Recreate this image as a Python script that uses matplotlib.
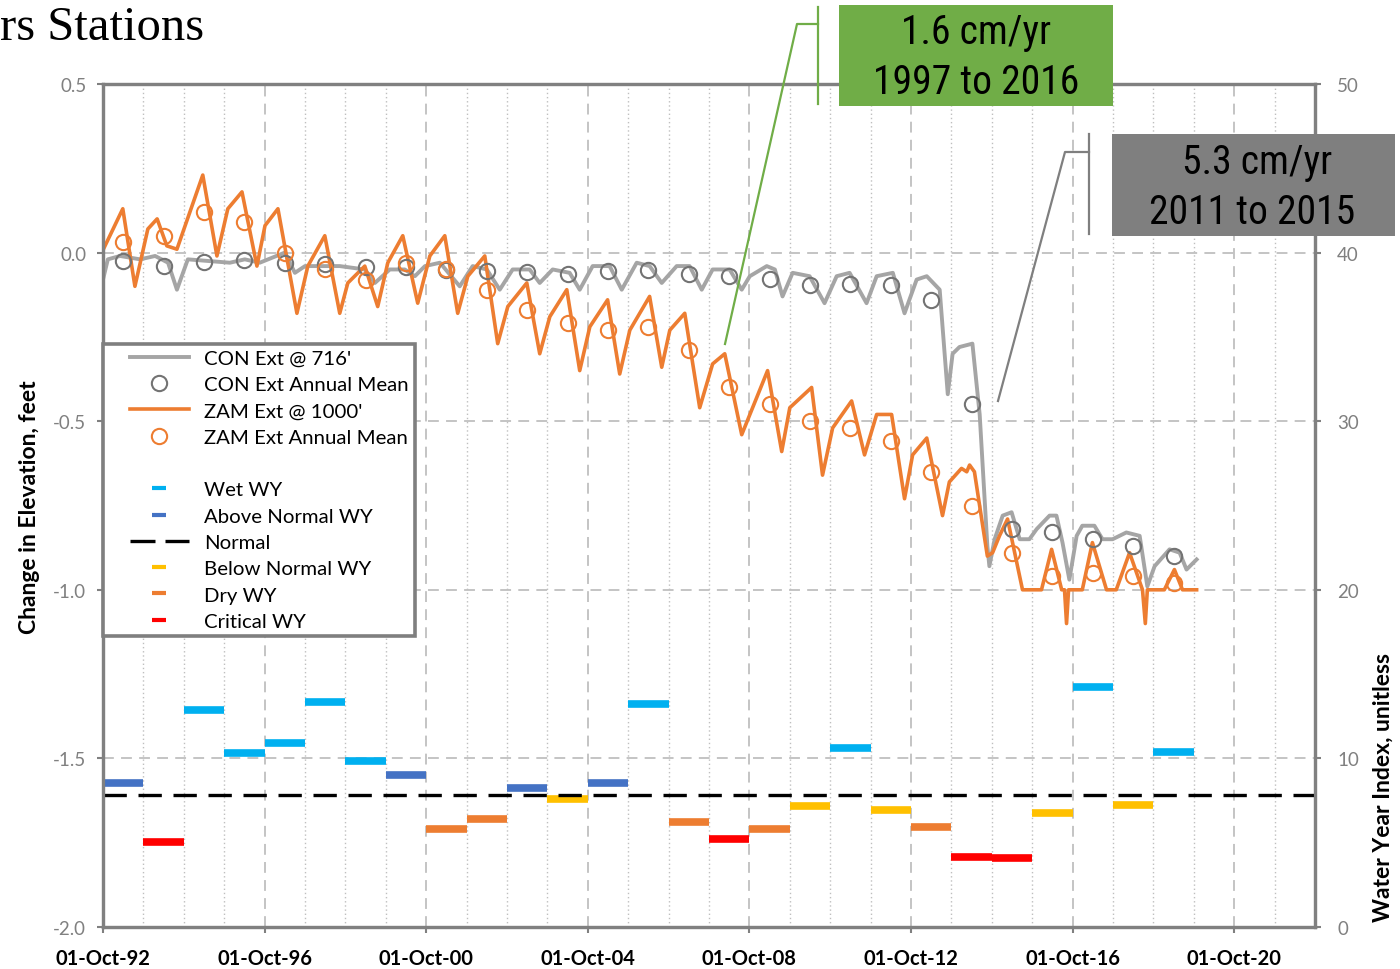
import matplotlib.pyplot as plt
from matplotlib.lines import Line2D
from matplotlib.patches import Rectangle
from matplotlib.legend_handler import HandlerLine2D

plt.rcParams['font.family'] = ['Lato', 'DejaVu Sans']

# CON Ext @ 716' (decimal year, change in elevation ft)
con_t = [1992.75, 1992.87, 1993.17, 1993.67, 1994.04, 1994.36, 1994.58, 1994.85,
         1995.89, 1996.26, 1996.63, 1997.25, 1997.50, 1997.75, 1998.61, 1999.23,
         1999.48, 1999.85, 2000.22, 2000.47, 2000.72, 2001.09, 2001.58, 2001.90,
         2002.25, 2002.57, 2002.89, 2003.31, 2003.56, 2003.88, 2004.30, 2004.55,
         2004.87, 2005.29, 2005.59, 2005.96, 2006.28, 2006.58, 2006.95, 2007.27,
         2007.57, 2007.84, 2008.26, 2008.56, 2008.76, 2009.18, 2009.38, 2009.57,
         2009.82, 2010.24, 2010.61, 2010.91, 2011.23, 2011.65, 2011.90, 2012.30,
         2012.59, 2012.89, 2013.14, 2013.46, 2013.66, 2013.78, 2013.95, 2014.27,
         2014.45, 2014.64, 2014.69, 2014.82, 2015.02, 2015.24, 2015.44, 2015.68,
         2015.86, 2016.18, 2016.35, 2016.50, 2016.67, 2016.85, 2016.99, 2017.29,
         2017.49, 2017.74, 2018.08, 2018.41, 2018.60, 2018.78, 2019.15, 2019.40,
         2019.57, 2019.82]
con_v = [-0.08, -0.02, -0.01, -0.02, -0.01, -0.03, -0.11, -0.02,
         -0.03, -0.02, -0.03, 0.00, -0.06, -0.04, -0.04, -0.05,
         -0.09, -0.05, -0.05, -0.07, -0.04, -0.03, -0.10, -0.04,
         -0.05, -0.11, -0.05, -0.05, -0.09, -0.05, -0.06, -0.11,
         -0.04, -0.04, -0.11, -0.03, -0.04, -0.09, -0.04, -0.04,
         -0.11, -0.05, -0.05, -0.11, -0.07, -0.04, -0.05, -0.13,
         -0.06, -0.07, -0.15, -0.07, -0.06, -0.15, -0.07, -0.06,
         -0.18, -0.08, -0.07, -0.11, -0.42, -0.30, -0.28, -0.27,
         -0.48, -0.87, -0.93, -0.85, -0.78, -0.77, -0.85, -0.85,
         -0.82, -0.78, -0.78, -0.86, -0.97, -0.84, -0.81, -0.81,
         -0.85, -0.85, -0.83, -0.84, -0.99, -0.93, -0.88, -0.89,
         -0.94, -0.91]

# ZAM Ext @ 1000'
zam_t = [1992.76, 1993.24, 1993.54, 1993.86, 1994.09, 1994.33, 1994.58, 1995.22,
         1995.57, 1995.84, 1996.19, 1996.56, 1996.76, 1997.08, 1997.55, 1997.82,
         1998.24, 1998.61, 1998.81, 1999.23, 1999.55, 1999.80, 2000.17, 2000.54,
         2000.84, 2001.21, 2001.53, 2001.78, 2002.20, 2002.52, 2002.77, 2003.24,
         2003.56, 2003.81, 2004.23, 2004.55, 2004.80, 2005.24, 2005.54, 2005.79,
         2006.28, 2006.58, 2006.78, 2007.15, 2007.52, 2007.84, 2008.14, 2008.56,
         2009.20, 2009.55, 2009.75, 2010.29, 2010.56, 2010.81, 2011.28, 2011.60,
         2011.90, 2012.27, 2012.59, 2012.79, 2013.14, 2013.53, 2013.70, 2014.00,
         2014.13, 2014.20, 2014.32, 2014.64, 2014.77, 2014.94, 2015.14, 2015.51,
         2015.98, 2016.23, 2016.48, 2016.55, 2016.60, 2016.65, 2016.99, 2017.24,
         2017.59, 2017.83, 2018.16, 2018.48, 2018.55, 2018.60, 2019.02, 2019.27,
         2019.47, 2019.82]
zam_v = [0.01, 0.13, -0.10, 0.07, 0.10, 0.02, 0.01, 0.23,
         -0.01, 0.13, 0.18, -0.04, 0.08, 0.13, -0.18, -0.04,
         0.05, -0.18, -0.09, -0.04, -0.16, -0.03, 0.05, -0.15,
         -0.01, 0.05, -0.18, -0.07, -0.01, -0.27, -0.16, -0.09,
         -0.30, -0.19, -0.11, -0.35, -0.22, -0.14, -0.36, -0.23,
         -0.13, -0.34, -0.23, -0.18, -0.46, -0.33, -0.30, -0.54,
         -0.35, -0.59, -0.46, -0.40, -0.66, -0.52, -0.44, -0.60,
         -0.48, -0.48, -0.73, -0.60, -0.55, -0.78, -0.68, -0.64,
         -0.65, -0.63, -0.65, -0.90, -0.89, -0.84, -0.79, -1.00,
         -1.00, -0.88, -1.00, -1.00, -1.10, -1.00, -1.00, -0.86,
         -1.00, -1.00, -0.89, -1.00, -1.10, -1.00, -1.00, -0.94,
         -1.00, -1.00]

water_years = list(range(1993, 2020))
con_mean = [-0.025, -0.04, -0.028, -0.022, -0.031, -0.034, -0.043, -0.043, -0.052,
            -0.055, -0.058, -0.063, -0.055, -0.052, -0.063, -0.069, -0.078, -0.096,
            -0.093, -0.096, -0.14, -0.45, -0.82, -0.83, -0.85, -0.87, -0.90]
zam_mean = [0.03, 0.05, 0.12, 0.09, 0.0, -0.05, -0.08, -0.03, -0.05,
            -0.11, -0.17, -0.21, -0.23, -0.22, -0.29, -0.40, -0.45, -0.50,
            -0.52, -0.56, -0.65, -0.75, -0.89, -0.96, -0.95, -0.96, -0.98]

wy_index = [8.54, 5.04, 12.87, 10.32, 10.91, 13.35, 9.85, 9.0, 5.81,
            6.4, 8.24, 7.59, 8.54, 13.23, 6.23, 5.22, 5.81, 7.18,
            10.62, 6.94, 5.93, 4.15, 4.09, 6.76, 14.23, 7.24, 10.38]
wy_type = ['AN', 'C', 'W', 'W', 'W', 'W', 'W', 'AN', 'D',
           'D', 'AN', 'BN', 'AN', 'W', 'D', 'C', 'D', 'BN',
           'W', 'BN', 'D', 'C', 'C', 'BN', 'W', 'BN', 'W']
normal_index = 7.8

type_colors = {'W': '#00B0F0', 'AN': '#4472C4', 'BN': '#FFC000',
               'D': '#ED7D31', 'C': '#FF0000'}
x_ticks = [1992.75, 1996.75, 2000.75, 2004.75, 2008.75, 2012.75, 2016.75, 2020.75]
x_labels = ['01-Oct-92', '01-Oct-96', '01-Oct-00', '01-Oct-04',
            '01-Oct-08', '01-Oct-12', '01-Oct-16', '01-Oct-20']

GRAY = '#A5A5A5'
ORANGE = '#ED7D31'
SPINE = '#808080'
NARROW = ['Arial Narrow', 'Liberation Sans Narrow', 'Roboto Condensed',
          'Open Sans Condensed', 'DejaVu Sans Condensed', 'Liberation Sans']

fig = plt.figure(figsize=(14, 9.7), dpi=100)
ax = fig.add_axes([103/1400, 42/970, 1212/1400, 843/970])
ax2 = ax.twinx()

ax.set_xlim(1992.75, 2022.75)
ax.set_ylim(-2.0, 0.5)
ax2.set_ylim(0, 50)

# grid
ax.set_xticks(x_ticks)
ax.set_xticklabels(x_labels)
ax.set_xticks([x_ticks[0] + i for i in range(31)], minor=True)
ax.set_yticks([-2.0, -1.5, -1.0, -0.5, 0.0, 0.5])
ax.set_yticklabels(['-2.0', '-1.5', '-1.0', '-0.5', '0.0', '0.5'])
ax.grid(which='major', color='#BFBFBF', lw=1.3, linestyle=(0, (6, 4)))
ax.grid(which='minor', axis='x', color='#BFBFBF', lw=1.0, linestyle=(0, (1, 2)))
ax.set_axisbelow(True)

ax.plot(con_t, con_v, color=GRAY, lw=2.8, zorder=3)
ax.plot(zam_t, zam_v, color=ORANGE, lw=2.6, zorder=4)
mean_x = [wy + 0.25 for wy in water_years]
ax.plot(mean_x, con_mean, ls='none', marker='o', ms=11, mfc='none',
        mec='#737373', mew=1.5, zorder=5)
ax.plot(mean_x, zam_mean, ls='none', marker='o', ms=11, mfc='none',
        mec=ORANGE, mew=1.5, zorder=5)

# water year index bars
starts = [wy - 0.25 for wy in water_years]
ends = [wy + 0.75 for wy in water_years]
ax2.hlines(wy_index, starts, ends, colors=[type_colors[t] for t in wy_type], lw=5.5)
ax2.axhline(normal_index, color='black', lw=2.4, linestyle=(0, (7, 3.5)))
ax2.set_yticks([0, 10, 20, 30, 40, 50])

for a in (ax, ax2):
    for s in a.spines.values():
        s.set_color(SPINE)
        s.set_linewidth(2.3)
ax.tick_params(axis='y', colors=SPINE, labelsize=13.5, length=4, width=1.5, pad=8)
ax2.tick_params(axis='y', colors=SPINE, labelsize=13.5, length=4, width=1.5, pad=12)
ax.tick_params(axis='x', which='major', labelsize=14.5, length=4, width=1.5,
               color=SPINE, labelcolor='black', pad=11)
ax.tick_params(axis='x', which='minor', length=0)
for lbl in ax.get_xticklabels():
    lbl.set_fontweight('bold')

fig.text(30/1400, 1 - 507/970, 'Change in Elevation, feet', rotation=90,
         ha='center', va='center', fontsize=16.5, fontweight='bold')
fig.text(1383/1400, 1 - 788/970, 'Water Year Index, unitless', rotation=90,
         ha='center', va='center', fontsize=16.5, fontweight='bold')

# legend
handles = [
    Line2D([], [], color=GRAY, lw=2.8),
    Line2D([], [], ls='none', marker='o', ms=11, mfc='none', mec='#737373', mew=1.5),
    Line2D([], [], color=ORANGE, lw=2.6),
    Line2D([], [], ls='none', marker='o', ms=11, mfc='none', mec=ORANGE, mew=1.5),
    Line2D([], [], color='none'),
    Line2D([], [], ls='none', marker='_', ms=10, mew=3, color=type_colors['W']),
    Line2D([], [], ls='none', marker='_', ms=10, mew=3, color=type_colors['AN']),
    Line2D([], [], color='black', lw=2.4, linestyle=(0, (7.5, 3))),
    Line2D([], [], ls='none', marker='_', ms=10, mew=3, color=type_colors['BN']),
    Line2D([], [], ls='none', marker='_', ms=10, mew=3, color=type_colors['D']),
    Line2D([], [], ls='none', marker='_', ms=10, mew=3, color=type_colors['C']),
]
labels = ["CON Ext @ 716'", 'CON Ext Annual Mean', "ZAM Ext @ 1000'",
          'ZAM Ext Annual Mean', '', 'Wet WY', 'Above Normal WY', 'Normal',
          'Below Normal WY', 'Dry WY', 'Critical WY']
leg = ax2.legend(handles, labels, loc='upper left', bbox_to_anchor=(0.0, 0.692),
                 borderaxespad=0, fontsize=14.7, frameon=True, fancybox=False,
                 framealpha=1, edgecolor='#7F7F7F', handlelength=3.9,
                 handletextpad=0.75, labelspacing=0.44, borderpad=0.3,
                 handler_map={Line2D: HandlerLine2D(xpad=1.0)})
leg.get_frame().set_linewidth(2.6)
leg.set_zorder(10)

# title fragment
fig.text(0, 1 - 40/970, 'rs Stations', fontsize=35, family='Liberation Serif',
         va='baseline', ha='left')

# callouts
def fx(px):
    return px / 1400

def fy(py):
    return 1 - py / 970

GREEN = '#70AD47'
fig.add_artist(Line2D([fx(725), fx(797), fx(818)], [fy(345), fy(25), fy(25)],
                      color=GREEN, lw=1.6, transform=fig.transFigure, zorder=6))
fig.add_artist(Line2D([fx(818), fx(818)], [fy(8), fy(105)],
                      color=GREEN, lw=1.6, transform=fig.transFigure, zorder=6))
fig.add_artist(Rectangle((fx(839), fy(107)), fx(1113) - fx(839), fy(6) - fy(107),
                         facecolor=GREEN, edgecolor='none',
                         transform=fig.transFigure, zorder=6))
fig.text(fx(976), fy(33), '1.6 cm/yr', ha='center', va='center', fontsize=28.5,
         family=NARROW, zorder=7)
fig.text(fx(976), fy(83), '1997 to 2016', ha='center', va='center', fontsize=28.5,
         family=NARROW, zorder=7)

DARK = '#7F7F7F'
fig.add_artist(Line2D([fx(998), fx(1065), fx(1089)], [fy(402), fy(153), fy(153)],
                      color=DARK, lw=1.6, transform=fig.transFigure, zorder=6))
fig.add_artist(Line2D([fx(1089), fx(1089)], [fy(135), fy(235)],
                      color=DARK, lw=1.6, transform=fig.transFigure, zorder=6))
fig.add_artist(Rectangle((fx(1112), fy(237)), fx(1395) - fx(1112), fy(135) - fy(237),
                         facecolor=DARK, edgecolor='none',
                         transform=fig.transFigure, zorder=6))
fig.text(fx(1257), fy(162), '5.3 cm/yr', ha='center', va='center', fontsize=28.5,
         family=NARROW, zorder=7)
fig.text(fx(1252), fy(212), '2011 to 2015', ha='center', va='center', fontsize=28.5,
         family=NARROW, zorder=7)

fig.savefig('out.png', dpi=100)
